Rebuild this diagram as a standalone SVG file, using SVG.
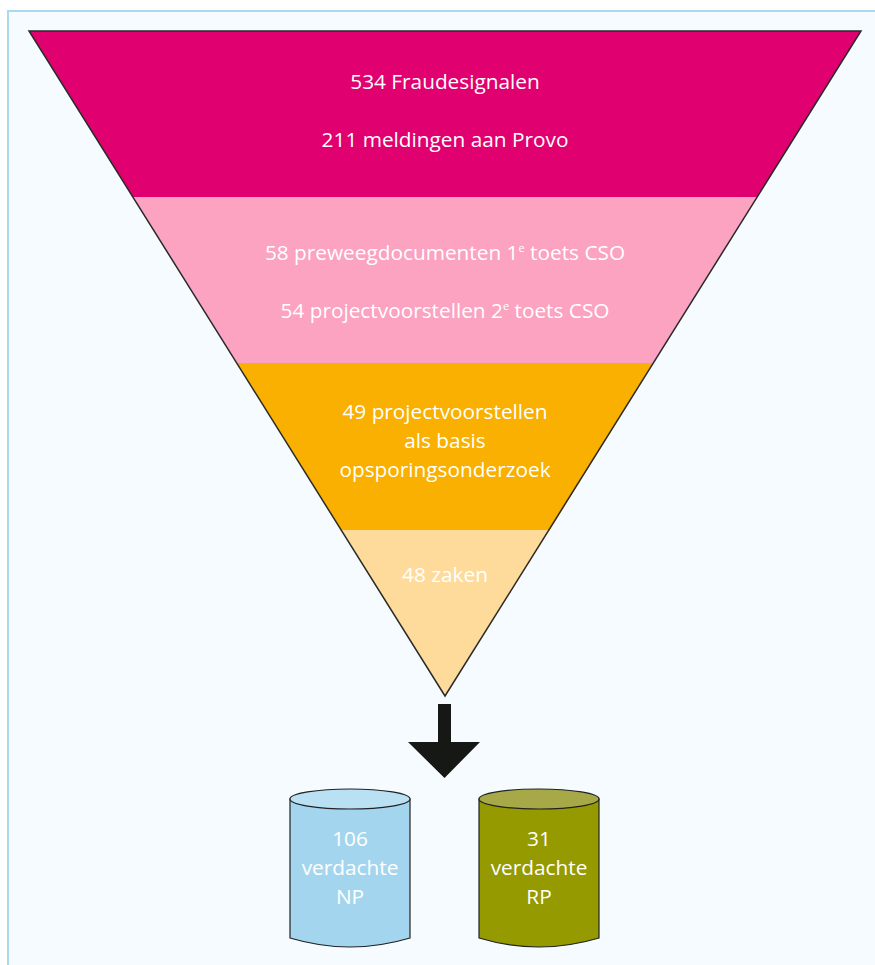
<svg xmlns="http://www.w3.org/2000/svg" width="875" height="965" viewBox="0 0 875 965">
<style>
.t{font-family:"Open Sans","Noto Sans","Liberation Sans",sans-serif;font-size:20.8px;fill:#ffffff;text-anchor:middle}
.sup{font-size:11px}
.cyl{stroke:#222;stroke-width:1.2}
</style>
<rect x="0" y="0" width="875" height="965" fill="#ffffff"/>
<rect x="8" y="11" width="880" height="970" fill="#f5fbfe" stroke="#a9d9ef" stroke-width="2"/>
<g id="funnel">
<g id="band1">
<polygon points="29,31 861,31 757.2,197 132.8,197" fill="#e0006f"/>
<text class="t" x="445" y="89">534 Fraudesignalen</text>
<text class="t" x="445" y="147">211 meldingen aan Provo</text>
</g>
<g id="band2">
<polygon points="132.8,197 757.2,197 653.3,363 236.7,363" fill="#fba3c1"/>
<text class="t" x="445" y="260">58 preweegdocumenten 1<tspan class="sup" dy="-8">e</tspan><tspan dy="8"> toets CSO</tspan></text>
<text class="t" x="445" y="318">54 projectvoorstellen 2<tspan class="sup" dy="-8">e</tspan><tspan dy="8"> toets CSO</tspan></text>
</g>
<g id="band3">
<polygon points="236.7,363 653.3,363 549.8,530 341.2,530" fill="#f9b000"/>
<text class="t" x="445" y="419">49 projectvoorstellen</text>
<text class="t" x="445" y="448">als basis</text>
<text class="t" x="445" y="477">opsporingsonderzoek</text>
</g>
<g id="band4">
<polygon points="341.2,530 549.8,530 445,696" fill="#fedb9b"/>
<text class="t" x="445" y="582">48 zaken</text>
</g>
<polygon points="29,31 861,31 445,696" fill="none" stroke="#2a2a2a" stroke-width="1.5" stroke-linejoin="miter"/>
</g>
<g id="connectors">
<polygon points="438,704 451,704 451,742 480,742 444.5,778 408,742 438,742" fill="#161816"/>
</g>
<g id="cylNP">
<path class="cyl" d="M290,799 L290,938 Q350,956 410,938 L410,799 Z" fill="#a3d6ee"/>
<ellipse class="cyl" cx="350" cy="799" rx="60" ry="10" fill="#b9e1f3"/>
<text class="t" x="350" y="846">106</text>
<text class="t" x="350" y="875">verdachte</text>
<text class="t" x="350" y="904">NP</text>
</g>
<g id="cylRP">
<path class="cyl" d="M479,799 L479,938 Q539,956 599,938 L599,799 Z" fill="#959a00"/>
<ellipse class="cyl" cx="539" cy="799" rx="60" ry="10" fill="#a7a948"/>
<text class="t" x="539" y="846">31</text>
<text class="t" x="539" y="875">verdachte</text>
<text class="t" x="539" y="904">RP</text>
</g>
</svg>
